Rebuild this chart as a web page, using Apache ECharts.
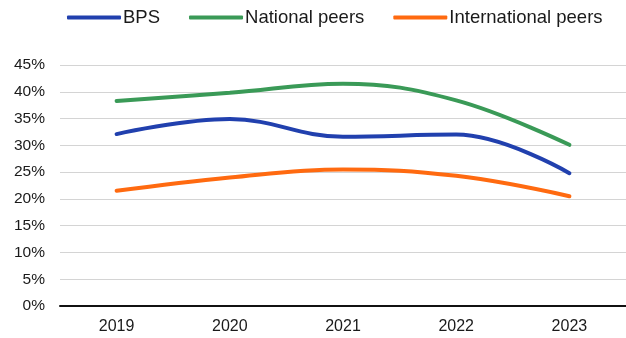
<!DOCTYPE html>
<html>
<head>
<meta charset="utf-8">
<script src="https://cdn.jsdelivr.net/npm/echarts@6/dist/echarts.min.js"></script>
<style>
  html, body { margin: 0; padding: 0; background: #fff; }
  #chart { width: 626px; height: 338px; }
</style>
</head>
<body>
<div id="chart"></div>
<script>
// Share by year, in percent
const years = ['2019', '2020', '2021', '2022', '2023'];
const bps = [32.1, 34.9, 31.6, 32.0, 24.8];
const nationalPeers = [38.3, 39.8, 41.5, 38.4, 30.1];
const internationalPeers = [21.5, 24.0, 25.5, 24.3, 20.5];

const chart = echarts.init(document.getElementById('chart'), null, { renderer: 'canvas' });

const font = 'Liberation Sans, Arial, sans-serif';

function lineSeries(name, data, color) {
  return {
    name: name,
    type: 'line',
    data: data,
    smooth: 0.4,
    symbol: 'none',
    lineStyle: { width: 4, color: color, cap: 'round' },
    itemStyle: { color: color }
  };
}

chart.setOption({
  animation: false,
  backgroundColor: '#ffffff',
  textStyle: { fontFamily: font },
  legend: {
    left: 62,
    top: 3,
    icon: 'roundRect',
    itemWidth: 54,
    itemHeight: 4,
    itemGap: 29,
    textStyle: { fontSize: 18.5, color: '#1a1a1a', fontFamily: font, padding: [0, 0, 0, -3] },
    data: ['BPS', 'National peers', 'International peers']
  },
  grid: { left: 60, right: -2, top: 65, bottom: 32, containLabel: false },
  xAxis: {
    type: 'category',
    data: years,
    boundaryGap: true,
    axisLine: { lineStyle: { color: '#111', width: 2 } },
    axisTick: { show: false },
    axisLabel: { fontSize: 16, color: '#1a1a1a', margin: 13, fontFamily: font }
  },
  yAxis: {
    type: 'value',
    min: 0,
    max: 45,
    interval: 5,
    axisLine: { show: false },
    axisTick: { show: false },
    splitLine: { lineStyle: { color: '#d4d4d4', width: 1 } },
    axisLabel: { formatter: '{value}%', fontSize: 15.5, color: '#1a1a1a', margin: 15, fontFamily: font }
  },
  series: [
    lineSeries('BPS', bps, '#2140ae'),
    lineSeries('National peers', nationalPeers, '#3a9a57'),
    lineSeries('International peers', internationalPeers, '#ff6a10')
  ]
});
</script>
</body>
</html>
